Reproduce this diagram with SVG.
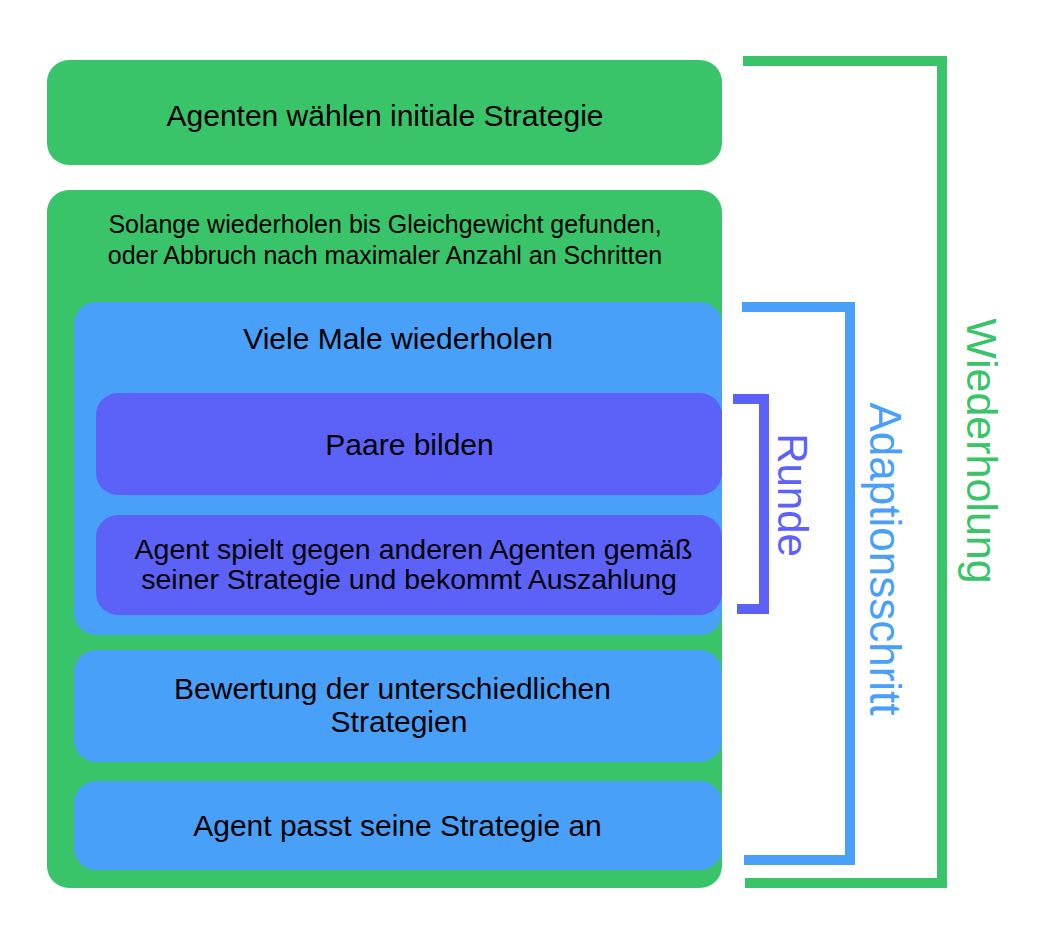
<svg xmlns="http://www.w3.org/2000/svg" width="1048" height="942" viewBox="0 0 1048 942">
<style>
.g{fill:#39C46A}
.b{fill:#48A0F8}
.p{fill:#5C62F8}
text{font-family:"Liberation Sans",Arial,Helvetica,sans-serif;fill:#000;text-anchor:middle}
.t30{font-size:30px}
.t28{font-size:28.5px}
.t25{font-size:25px}
.br{fill:none;stroke-width:10;stroke-linecap:butt;stroke-linejoin:miter}
.lab{font-size:43px}
</style>
<rect width="1048" height="942" fill="#fff"/>
<g id="n1">
<rect class="g" x="47" y="60" width="675" height="105" rx="22"/>
<text class="t30" x="385" y="126">Agenten wählen initiale Strategie</text>
</g>
<g id="n2">
<rect class="g" x="47" y="190" width="675" height="698" rx="22"/>
<text class="t25" x="385" y="233">Solange wiederholen bis Gleichgewicht gefunden,</text>
<text class="t25" x="385" y="264">oder Abbruch nach maximaler Anzahl an Schritten</text>
</g>
<g id="n3">
<rect class="b" x="74" y="302" width="648" height="333" rx="22"/>
<text class="t30" x="398" y="349">Viele Male wiederholen</text>
</g>
<g id="n4">
<rect class="p" x="96" y="393" width="626" height="102" rx="22"/>
<text class="t30" x="409.5" y="455">Paare bilden</text>
</g>
<g id="n5">
<rect class="p" x="96" y="515" width="626" height="100" rx="22"/>
<text class="t28" x="413.5" y="559">Agent spielt gegen anderen Agenten gemäß</text>
<text class="t28" x="409" y="589">seiner Strategie und bekommt Auszahlung</text>
</g>
<g id="n6">
<rect class="b" x="74" y="650" width="648" height="112" rx="22"/>
<text class="t30" x="392.5" y="699">Bewertung der unterschiedlichen</text>
<text class="t30" x="399" y="732">Strategien</text>
</g>
<g id="n7">
<rect class="b" x="74" y="781" width="648" height="89" rx="22"/>
<text class="t30" x="397.5" y="836">Agent passt seine Strategie an</text>
</g>
<g id="connectors">
<polyline class="br" stroke="#39C46A" points="743,61 942,61 942,883 745,883"/>
<polyline class="br" stroke="#48A0F8" points="742,307 850,307 850,860 744,860"/>
<polyline class="br" stroke="#5C62F8" points="733,399 764,399 764,609 737,609"/>
</g>
<g id="labels">
<text class="lab" style="fill:#5C62F8;font-size:42px" transform="translate(778,495) rotate(90)">Runde</text>
<text class="lab" style="fill:#48A0F8;font-size:44px" transform="translate(870,559) rotate(90)">Adaptionsschritt</text>
<text class="lab" style="fill:#39C46A" transform="translate(967,451) rotate(90)">Wiederholung</text>
</g>
</svg>
